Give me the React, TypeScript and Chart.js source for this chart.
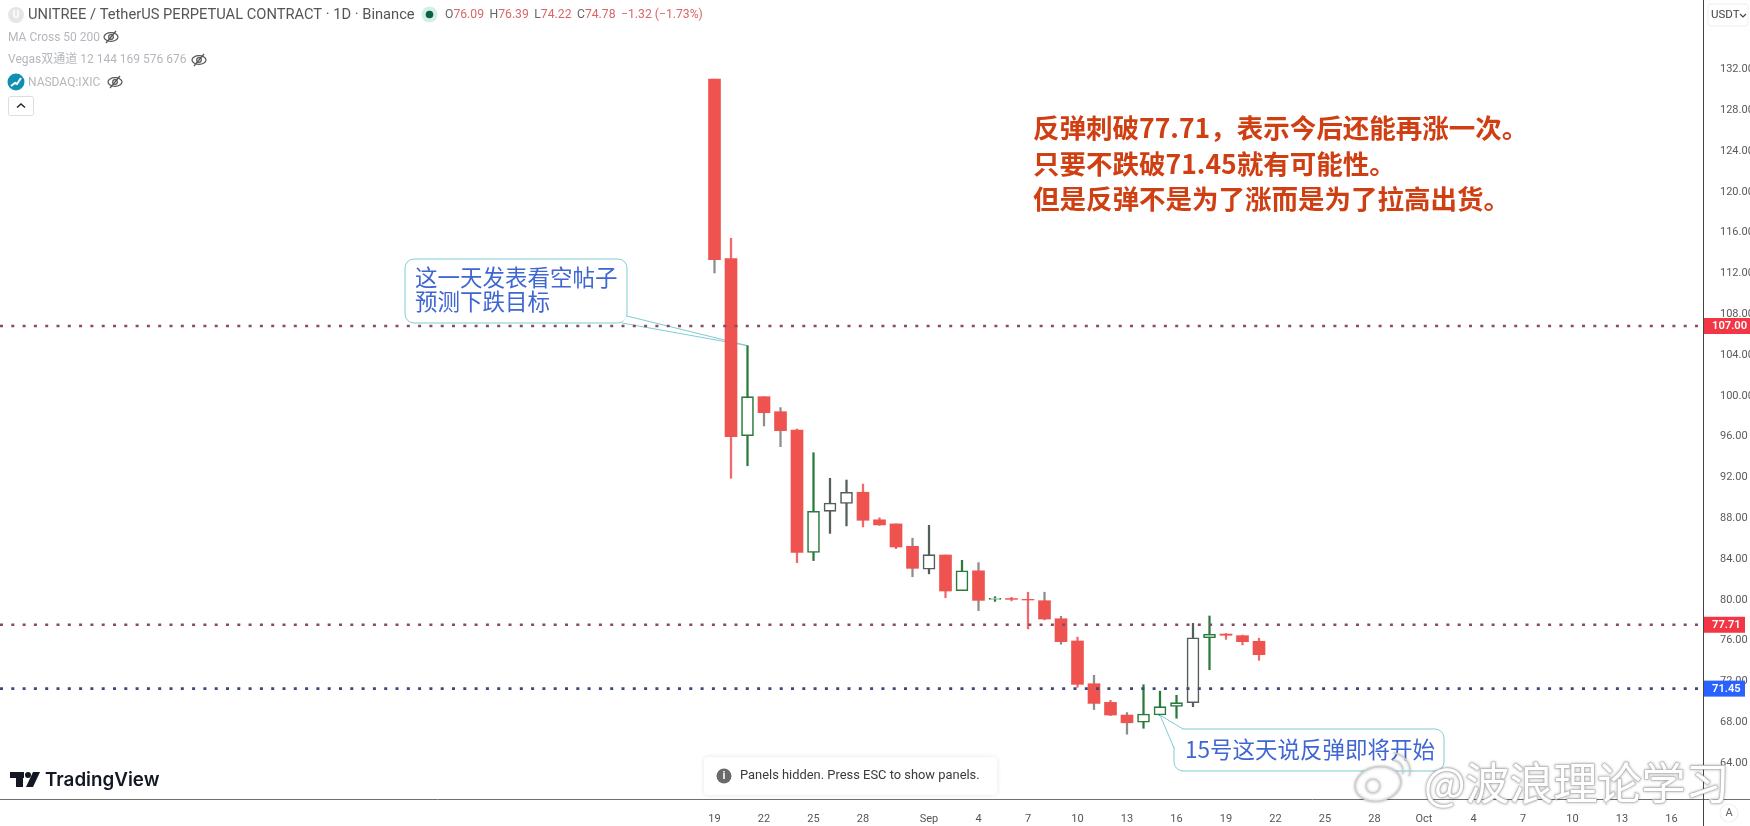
import React, { useEffect, useRef } from "react";
import { Chart, registerables } from "chart.js";

Chart.register(...registerables);

// Day index 0 = 19 Aug
const opens = [131.2, 113.6, 96.25, 100.07, 98.6, 96.8, 84.8, 88.83, 89.6, 90.7, 88.0, 87.6, 85.4, 83.15, 84.55, 81.05, 83.0, 80.2, 80.28, 80.2, 80.07, 78.3, 76.12, 71.93, 70.1, 68.86, 68.15, 68.86, 69.7, 70.07, 76.44, 76.8, 76.64, 76.09];
const highs = [131.2, 115.6, 105.07, 100.07, 99.0, 96.9, 94.58, 92.07, 91.9, 91.5, 88.2, 87.6, 86.2, 87.46, 84.55, 84.03, 83.8, 80.46, 80.4, 80.9, 80.9, 78.54, 76.5, 72.75, 70.3, 69.1, 71.83, 71.2, 70.8, 77.85, 78.57, 76.85, 76.7, 76.39];
const lows = [112.2, 92.07, 93.3, 97.2, 95.17, 83.8, 84.0, 86.67, 87.4, 87.3, 87.45, 85.17, 82.42, 82.7, 80.36, 81.05, 79.1, 80.0, 80.05, 77.3, 78.2, 75.8, 71.58, 69.4, 68.8, 66.98, 67.56, 68.8, 68.54, 69.68, 73.3, 76.28, 75.73, 74.22];
const closes = [113.5, 96.15, 100.07, 98.5, 96.74, 84.8, 88.83, 89.65, 90.7, 87.95, 87.5, 85.33, 83.24, 84.58, 81.02, 83.0, 80.1, 80.3, 80.2, 80.14, 78.27, 76.05, 71.87, 70.0, 68.86, 68.1, 68.96, 69.68, 70.07, 76.44, 76.77, 76.68, 76.05, 74.78];

const xTickDays = [0, 3, 6, 9, 13, 16, 19, 22, 25, 28, 31, 34, 37, 40, 43, 46, 49, 52, 55, 58];
const xTickLabels = ["19", "22", "25", "28", "Sep", "4", "7", "10", "13", "16", "19", "22", "25", "28", "Oct", "4", "7", "10", "13", "16"];
const yTicks = [64, 68, 72, 76, 80, 84, 88, 92, 96, 100, 104, 108, 112, 116, 120, 124, 128, 132];

const levelValues = [107, 77.71, 71.45];
const levelLabels = ["107.00", "77.71", "71.45"];

const headerTitle = "UNITREE / TetherUS PERPETUAL CONTRACT · 1D · Binance";
const ohlcLabels = ["O", "H", "L", "C"];
const ohlcValues = ["76.09", "76.39", "74.22", "74.78"];
const changeText = "−1.32 (−1.73%)";
const redNote = ["反弹刺破77.71，表示今后还能再涨一次。", "只要不跌破71.45就有可能性。", "但是反弹不是为了涨而是为了拉高出货。"];
const callout1 = ["这一天发表看空帖子", "预测下跌目标"];
const callout2 = "15号这天说反弹即将开始";

// styles
const UP = "#2a7a3b";
const UP_GREY = "#555f5a";
const DOWN = "#ef5350";
const greyUpDays = new Set([7, 8, 13, 29]);
const greyWickDays = new Set([0, 3, 4, 12, 16, 20, 21, 23, 25]);
const LATIN = "Roboto, sans-serif";
const CJK = '"Noto Sans CJK SC", sans-serif';
const TEAL = "#7fcbd2";
const CALLOUT_BLUE = "#3f66d2";
const X0 = 714.5;
const DAY_PX = 16.5;
const PLOT_W = 1703;
const PLOT_H = 800;
const xMin = -X0 / DAY_PX;
const xMax = (PLOT_W - X0) / DAY_PX;
const yMax = 107 + 326 / 10.2;
const yMin = 107 - (PLOT_H - 326) / 10.2;

const isUp = (i: number) => closes[i] >= opens[i];
const levelColors = ["#8a4a62", "#8a4a62", "#3f4a7a"];
const tagColors = ["#f23645", "#f23645", "#2962ff"];
const tagRight = [1750, 1745, 1745];

function roundRect(c: CanvasRenderingContext2D, x: number, y: number, w: number, h: number, r: number) {
  c.beginPath();
  c.roundRect(x, y, w, h, r);
}

function eye(c: CanvasRenderingContext2D, x: number, y: number) {
  c.save();
  c.strokeStyle = "#555";
  c.lineWidth = 1.2;
  c.beginPath();
  c.ellipse(x, y, 7, 4.3, 0, 0, Math.PI * 2);
  c.stroke();
  c.beginPath();
  c.arc(x, y, 2.3, 0, Math.PI * 2);
  c.stroke();
  c.beginPath();
  c.moveTo(x - 5, y + 6);
  c.lineTo(x + 5, y - 6);
  c.stroke();
  c.restore();
}

function callout(c: CanvasRenderingContext2D, box: number[], tail: number[][], r: number) {
  const [x, y, w, h] = box;
  c.save();
  c.fillStyle = "#ffffff";
  c.strokeStyle = TEAL;
  c.lineWidth = 1;
  roundRect(c, x, y, w, h, r);
  c.fill();
  c.stroke();
  c.beginPath();
  c.moveTo(tail[0][0], tail[0][1]);
  c.lineTo(tail[1][0], tail[1][1]);
  c.lineTo(tail[2][0], tail[2][1]);
  c.fill();
  c.stroke();
  c.restore();
}

const underlay = {
  id: "underlay",
  beforeDatasetsDraw(chart: any) {
    const c = chart.ctx as CanvasRenderingContext2D;
    const sx = chart.scales.x;
    const sy = chart.scales.y;
    const apex1x = sx.getPixelForValue(2);
    const apex1y = sy.getPixelForValue(highs[2]);
    callout(c, [405, 259, 222, 64], [[627, 316], [apex1x, apex1y], [622, 323]], 9);
  },
};

const overlay = {
  id: "overlay",
  afterDraw(chart: any) {
    const c = chart.ctx as CanvasRenderingContext2D;
    const sx = chart.scales.x;
    const sy = chart.scales.y;
    c.save();

    // full-length axis rules
    c.strokeStyle = "#6f6f6f";
    c.lineWidth = 1;
    c.beginPath();
    c.moveTo(0, 799.5);
    c.lineTo(1750, 799.5);
    c.stroke();
    c.strokeStyle = "#444";
    c.beginPath();
    c.moveTo(1703.5, 0);
    c.lineTo(1703.5, 826);
    c.stroke();

    // level tags
    levelValues.forEach((v, i) => {
      const py = sy.getPixelForValue(v);
      c.fillStyle = tagColors[i];
      c.fillRect(1704, py - 8, tagRight[i] - 1704, 16);
      c.fillStyle = "#ffffff";
      c.font = `600 11.2px ${LATIN}`;
      c.textAlign = "left";
      c.textBaseline = "middle";
      c.fillText(levelLabels[i], 1712, py + 0.5);
    });

    // USDT button
    c.strokeStyle = "#eeeeee";
    roundRect(c, 1708, 4, 40, 22, 3);
    c.stroke();
    c.fillStyle = "#444";
    c.font = `11.5px ${LATIN}`;
    c.fillText("USDT", 1711, 15);
    c.strokeStyle = "#444";
    c.lineWidth = 1.2;
    c.beginPath();
    c.moveTo(1740, 14);
    c.lineTo(1743, 17);
    c.lineTo(1746, 14);
    c.stroke();

    // "A" button
    c.strokeStyle = "#f0f0f0";
    c.beginPath();
    c.arc(1729, 813, 9, 0, Math.PI * 2);
    c.stroke();
    c.fillStyle = "#666";
    c.font = `11px ${LATIN}`;
    c.textAlign = "center";
    c.fillText("A", 1729, 813);
    c.textAlign = "left";

    // legend header
    c.fillStyle = "#e6e6e6";
    c.beginPath();
    c.arc(16, 15, 8, 0, Math.PI * 2);
    c.fill();
    c.fillStyle = "#ffffff";
    c.font = `600 10px ${LATIN}`;
    c.textAlign = "center";
    c.fillText("U", 16, 15.5);
    c.textAlign = "left";
    c.fillStyle = "#555";
    c.font = `14.7px ${LATIN}`;
    c.fillText(headerTitle, 28, 15);
    c.fillStyle = "#d3efe6";
    c.beginPath();
    c.arc(429.5, 14.5, 8, 0, Math.PI * 2);
    c.fill();
    c.fillStyle = "#0b6148";
    c.beginPath();
    c.arc(429.5, 14.5, 3.8, 0, Math.PI * 2);
    c.fill();

    // OHLC line
    c.font = `12.2px ${LATIN}`;
    let ox = 445;
    ohlcLabels.forEach((l, i) => {
      c.fillStyle = "#666";
      c.fillText(l, ox, 15);
      ox += c.measureText(l).width;
      c.fillStyle = "#d9666a";
      c.fillText(ohlcValues[i], ox, 15);
      ox += c.measureText(ohlcValues[i]).width + 5.5;
    });
    c.fillStyle = "#d9666a";
    c.fillText(changeText, ox, 15);

    c.font = `12px ${LATIN}`;
    c.fillStyle = "#b4b7bd";
    c.fillText("MA Cross 50 200", 8, 37.5);
    c.font = `12px ${LATIN}, ${CJK}`;
    c.fillText("Vegas双通道 12 144 169 576 676", 8, 60);
    c.font = `12px ${LATIN}`;
    c.fillText("NASDAQ:IXIC", 28, 82.5);
    eye(c, 111, 37);
    eye(c, 199, 60);
    eye(c, 115, 82);
    c.fillStyle = "#0f8fb3";
    c.beginPath();
    c.arc(16, 82, 8.5, 0, Math.PI * 2);
    c.fill();
    c.strokeStyle = "#ffffff";
    c.lineWidth = 2;
    c.beginPath();
    c.moveTo(11, 86);
    c.lineTo(15, 83);
    c.lineTo(17, 84);
    c.lineTo(21, 78);
    c.stroke();
    c.strokeStyle = "#dddddd";
    c.lineWidth = 1;
    roundRect(c, 8.5, 96.5, 25, 19, 2);
    c.stroke();
    c.strokeStyle = "#222";
    c.lineWidth = 1.4;
    c.beginPath();
    c.moveTo(17, 107.5);
    c.lineTo(21, 104);
    c.lineTo(25, 107.5);
    c.stroke();

    // red note
    c.fillStyle = "#cf3f12";
    c.font = `700 26.5px ${CJK}`;
    redNote.forEach((t, i) => c.fillText(t, 1033, [128, 163.5, 199][i]));

    // callout texts
    c.fillStyle = CALLOUT_BLUE;
    c.font = `22.5px ${CJK}`;
    callout1.forEach((t, i) => c.fillText(t, 415, [277.5, 301][i]));

    // second callout
    const apexX = sx.getPixelForValue(27);
    const apexY = sy.getPixelForValue(opens[27]);
    callout(c, [1174, 729, 270, 42], [[1183, 729], [apexX, apexY], [1174, 748]], 9);
    c.fillStyle = "#ffffff";
    c.fillRect(1175, 730, 16, 17);
    c.fillStyle = CALLOUT_BLUE;
    c.font = `22.5px ${CJK}`;
    c.fillText(callout2, 1185, 749);

    // toast
    c.save();
    c.shadowColor = "rgba(0,0,0,0.10)";
    c.shadowBlur = 5;
    c.fillStyle = "#ffffff";
    roundRect(c, 704, 757, 293, 38, 4);
    c.fill();
    c.restore();
    c.fillStyle = "#6a6a6a";
    c.beginPath();
    c.arc(724, 776, 7.5, 0, Math.PI * 2);
    c.fill();
    c.fillStyle = "#ffffff";
    c.font = `700 11px ${LATIN}`;
    c.textAlign = "center";
    c.fillText("i", 724, 776.5);
    c.textAlign = "left";
    c.fillStyle = "#3a3a3a";
    c.font = `12.9px ${LATIN}`;
    c.fillText("Panels hidden. Press ESC to show panels.", 740, 776);

    // TradingView logo
    c.fillStyle = "#131722";
    c.fillRect(10, 772, 14, 6);
    c.fillRect(16, 772, 7, 15);
    c.beginPath();
    c.arc(28, 775, 3, 0, Math.PI * 2);
    c.fill();
    c.beginPath();
    c.moveTo(33, 772);
    c.lineTo(40, 772);
    c.lineTo(33, 787);
    c.lineTo(26, 787);
    c.closePath();
    c.fill();
    c.font = `600 18.8px Inter, ${LATIN}`;
    c.fillText("TradingView", 45, 780);

    // Weibo watermark
    c.shadowColor = "rgba(0,0,0,0.25)";
    c.shadowBlur = 3;
    c.strokeStyle = "#cfcfcf";
    c.lineWidth = 1.6;
    c.fillStyle = "#ffffff";
    c.font = `400 44px ${CJK}`;
    c.strokeText("@波浪理论学习", 1424, 783);
    c.fillText("@波浪理论学习", 1424, 783);
    c.beginPath();
    c.ellipse(1378, 784, 23, 17, -0.2, 0, Math.PI * 2);
    c.fill();
    c.stroke();
    c.beginPath();
    c.arc(1373, 786, 7, 0, Math.PI * 2);
    c.stroke();
    c.beginPath();
    c.arc(1392, 771, 11, -1.5, 0.3);
    c.stroke();
    c.beginPath();
    c.arc(1392, 771, 18, -1.5, 0.3);
    c.stroke();
    c.restore();
  },
};

function clearPadding(axis: any) {
  axis.paddingLeft = 0;
  axis.paddingRight = 0;
  axis.paddingTop = 0;
  axis.paddingBottom = 0;
}

export default function App() {
  const ref = useRef<HTMLCanvasElement>(null);
  useEffect(() => {
    document.body.style.margin = "0";
    const days = opens.map((_, i) => i);
    const wickColors = days.map((i) =>
      isUp(i)
        ? greyUpDays.has(i) ? UP_GREY : UP
        : greyWickDays.has(i) ? "#8d8d8d" : "#f0686a"
    );
    const levelDatasets = levelValues.map((v, i) => ({
      type: "line",
      data: [{ x: xMin, y: v }, { x: xMax, y: v }],
      borderColor: levelColors[i],
      borderWidth: 2.6,
      borderDash: [3, 8.3],
      pointRadius: 0,
      order: 0,
    }));
    const chart = new Chart(ref.current as HTMLCanvasElement, {
      type: "bar",
      data: {
        datasets: [
          ...levelDatasets,
          {
            type: "bar",
            data: days.map((i) => ({ x: i, y: [opens[i], closes[i]] })),
            backgroundColor: days.map((i) => (isUp(i) ? "#ffffff" : DOWN)),
            borderColor: days.map((i) => (isUp(i) ? (greyUpDays.has(i) ? UP_GREY : UP) : DOWN)),
            borderWidth: days.map((i) => (isUp(i) ? 1.6 : 0)),
            borderSkipped: false,
            barThickness: 12,
            grouped: false,
            order: 1,
          },
          {
            type: "bar",
            data: days.map((i) => ({ x: i, y: [lows[i], highs[i]] })),
            backgroundColor: wickColors,
            borderWidth: 0,
            barThickness: 1.6,
            grouped: false,
            order: 2,
          },
        ],
      } as any,
      options: {
        responsive: false,
        animation: false,
        layout: { padding: 0 },
        plugins: { legend: { display: false }, tooltip: { enabled: false }, title: { display: false } },
        scales: {
          x: {
            type: "linear",
            offset: false,
            min: xMin,
            max: xMax,
            grid: { display: false },
            border: { display: false },
            afterBuildTicks(axis: any) {
              axis.ticks = xTickDays.map((value) => ({ value }));
            },
            afterFit(axis: any) {
              axis.height = 26;
              clearPadding(axis);
            },
            ticks: {
              autoSkip: false,
              maxRotation: 0,
              padding: 5,
              color: "#555",
              font: { family: "Roboto", size: 11 },
              callback: (v: number) => xTickLabels[xTickDays.indexOf(v)] ?? "",
            },
          },
          y: {
            position: "right",
            min: yMin,
            max: yMax,
            grid: { display: false },
            border: { display: false },
            afterBuildTicks(axis: any) {
              axis.ticks = yTicks.map((value) => ({ value }));
            },
            afterFit(axis: any) {
              axis.width = 47;
              clearPadding(axis);
            },
            ticks: {
              autoSkip: false,
              padding: 9,
              labelOffset: -1.5,
              color: "#5a5a5a",
              font: { family: "Roboto", size: 11 },
              callback: (v: number) => v.toFixed(2),
            },
          },
        },
      } as any,
      plugins: [underlay, overlay] as any,
    });
    return () => chart.destroy();
  }, []);
  return <canvas ref={ref} width={1750} height={826} style={{ display: "block" }} />;
}
